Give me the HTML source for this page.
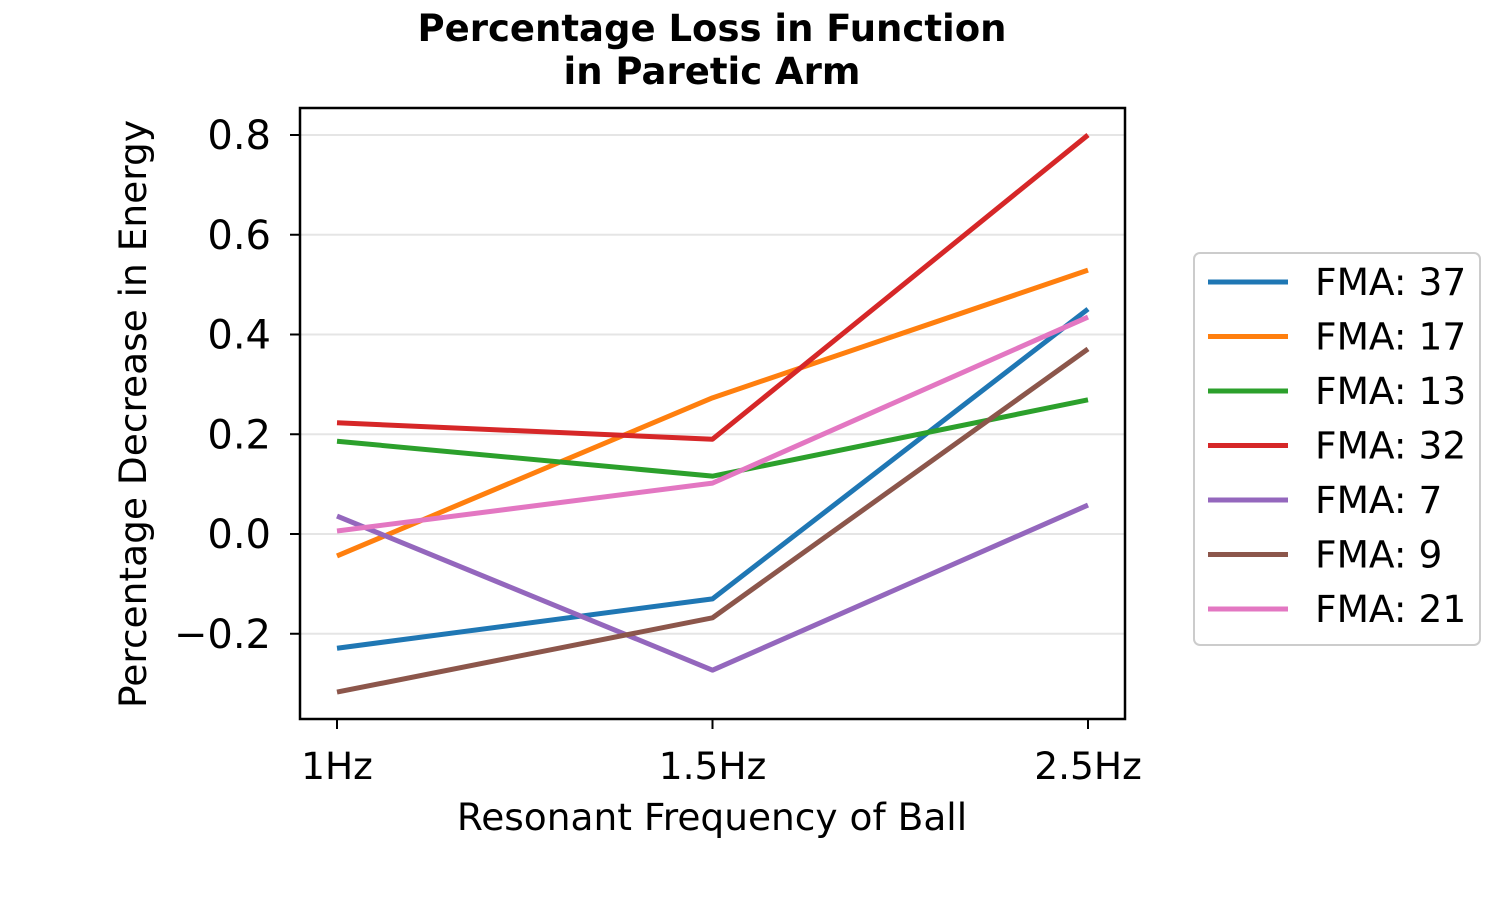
<!DOCTYPE html>
<html><head><meta charset="utf-8"><style>
html,body{margin:0;padding:0;background:#fff;}
svg{display:block;font-family:"DejaVu Sans","Liberation Sans",sans-serif;}
</style></head><body>
<svg id="chart" width="1500" height="900" viewBox="0 0 1500 900">
<text x="712" y="41" text-anchor="middle" font-size="37" font-weight="bold">Percentage Loss in Function</text>
<text x="712" y="84" text-anchor="middle" font-size="37" font-weight="bold">in Paretic Arm</text>
<g id="grid"></g>
<g id="lines"></g>
<rect x="300" y="108" width="825" height="611" fill="none" stroke="#000" stroke-width="2.5"/>
<g id="yticks"></g>
<g id="xticks"></g>
<text x="712" y="830" text-anchor="middle" font-size="37.5">Resonant Frequency of Ball</text>
<text transform="translate(146,414) rotate(-90)" text-anchor="middle" font-size="37.5">Percentage Decrease in Energy</text>
<rect x="1194" y="253" width="286" height="392" rx="6" fill="#fff" stroke="#ccc" stroke-width="2"/>
<g id="legend"></g>
</svg>
<script>
const categories=["1Hz","1.5Hz","2.5Hz"];
const seriesNames=["FMA: 37","FMA: 17","FMA: 13","FMA: 32","FMA: 7","FMA: 9","FMA: 21"];
const fma37=[-0.229,-0.13,0.451];
const fma17=[-0.044,0.273,0.529];
const fma13=[0.186,0.116,0.269];
const fma32=[0.223,0.19,0.8];
const fma7=[0.036,-0.273,0.058];
const fma9=[-0.317,-0.168,0.371];
const fma21=[0.006,0.102,0.435];
const yTicks=[-0.2,0.0,0.2,0.4,0.6,0.8];
const yTickLabels=["\u22120.2","0.0","0.2","0.4","0.6","0.8"];
const seriesValues=[fma37,fma17,fma13,fma32,fma7,fma9,fma21];
const colors=["#1f77b4","#ff7f0e","#2ca02c","#d62728","#9467bd","#8c564b","#e377c2"];
const NS="http://www.w3.org/2000/svg";
function xPos(i){return 337+i*375.5;}
function yPos(v){return 534-v*498.75;}
function mk(t,a,p){const e=document.createElementNS(NS,t);for(const k in a)e.setAttribute(k,a[k]);p.appendChild(e);return e;}
const grid=document.getElementById('grid'),yt=document.getElementById('yticks'),xt=document.getElementById('xticks');
yTicks.forEach((v,i)=>{
 const g=mk('line',{x1:300,x2:1125,y1:yPos(v),y2:yPos(v),stroke:'#e5e5e5','stroke-width':2},grid);
 
 
 const tk=mk('line',{x1:290,x2:300,y1:yPos(v),y2:yPos(v),stroke:'#000','stroke-width':2},yt);
 
 
 const t=mk('text',{x:271,y:yPos(v)+14,'text-anchor':'end','font-size':40},yt);
 t.textContent=yTickLabels[i];
 
 
});
categories.forEach((c,i)=>{
 const tk=mk('line',{x1:xPos(i),x2:xPos(i),y1:719,y2:729,stroke:'#000','stroke-width':2},xt);
 
 
 const t=mk('text',{x:xPos(i),y:779,'text-anchor':'middle','font-size':37.5},xt);
 t.textContent=c;
 
 
});
const lines=document.getElementById('lines'),leg=document.getElementById('legend');
seriesValues.forEach((vals,s)=>{
 const pts=vals.map((v,i)=>xPos(i)+','+yPos(v)).join(' ');
 const pl=mk('polyline',{points:pts,fill:'none',stroke:colors[s],'stroke-width':5,'stroke-linejoin':'round'},lines);
 
 
 const y=282+s*54.5;
 const g=mk('g',{},leg);
 
 
 mk('line',{x1:1208,x2:1288,y1:y,y2:y,stroke:colors[s],'stroke-width':5},g);
 const t=mk('text',{x:1315,y:y+13,'font-size':37.5},g);
 t.textContent=seriesNames[s];
});
</script>
</body></html>
